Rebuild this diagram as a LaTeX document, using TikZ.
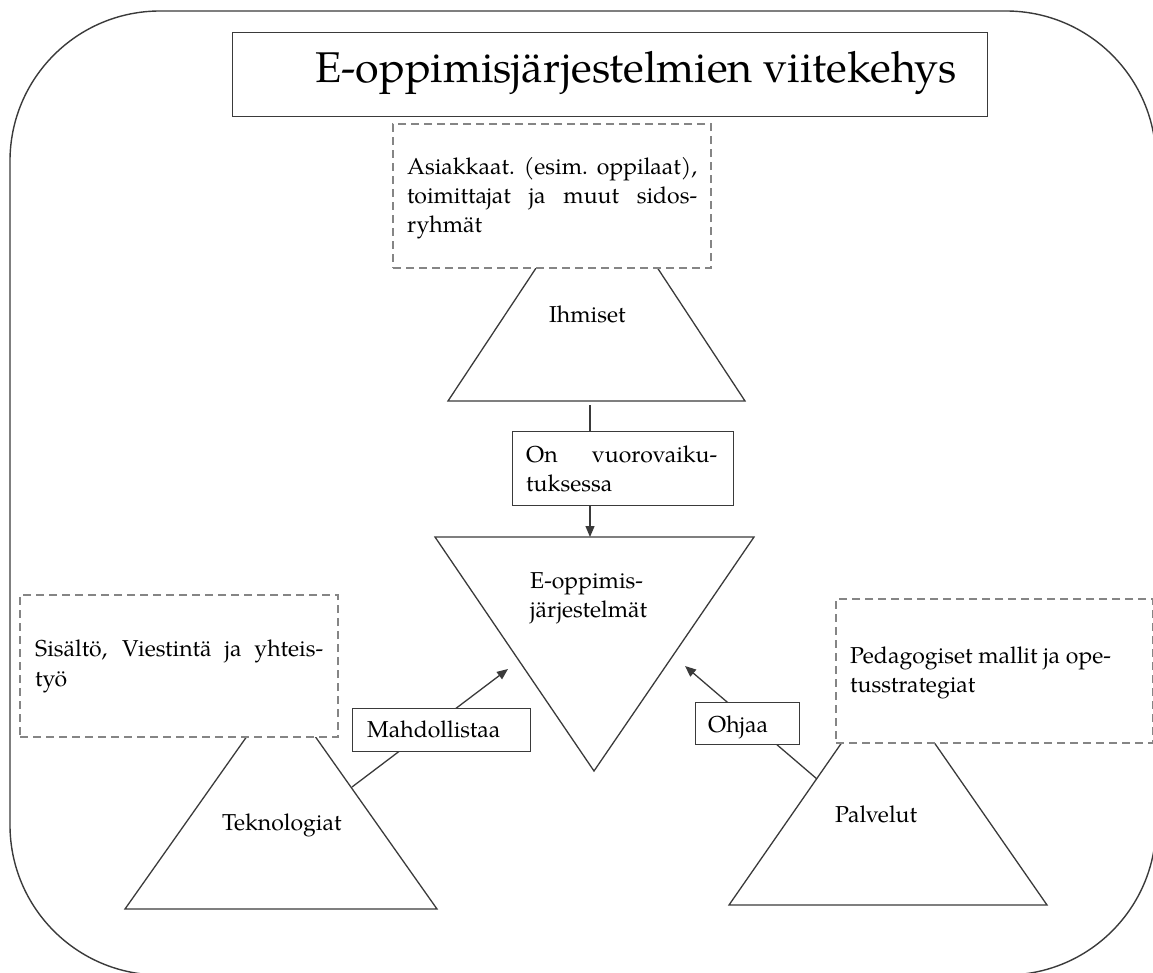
\documentclass[tikz,border=0pt]{standalone}
\usepackage{fontspec}
\setmainfont{TeX Gyre Pagella}
\usetikzlibrary{arrows.meta}
\definecolor{ln}{HTML}{3A3A3A}
\definecolor{dsh}{HTML}{858585}
\tikzset{
  solidln/.style={draw=ln, line width=1.3pt},
  dashbox/.style={draw=dsh, line width=2pt, dash pattern=on 8pt off 5pt, fill=white, inner sep=0pt, anchor=north west},
  plainbox/.style={draw=ln, line width=1.3pt, fill=white, inner sep=0pt, anchor=north west},
  txt/.style={inner sep=0pt, anchor=base west, font=\fontsize{23}{29}\selectfont, text=black},
  arr/.style={solidln, -{Triangle[length=11pt,width=9pt]}},
}
\begin{document}
\begin{tikzpicture}[x=1pt,y=-1pt]
\useasboundingbox (0,0) rectangle (1153,972);
% outer frame
\draw[draw=ln, line width=1.4pt, rounded corners=150pt] (10,11) rectangle (1156,975);

% title
\node[plainbox, minimum width=755pt, minimum height=84pt] (title) at (232,32) {};
\node[inner sep=0pt, anchor=base west, font=\fontsize{43}{50}\selectfont] (titletext) at (315,82) {E-oppimisjärjestelmien viitekehys};

% triangles
\draw[solidln] (597,176) -- (745,401) -- (448,401) -- cycle;
\draw[solidln] (281,688) -- (437,909) -- (125,909) -- cycle;
\draw[solidln] (888,676) -- (1047,905) -- (729,905) -- cycle;
\draw[solidln] (435,537) -- (754,537) -- (594,771) -- cycle;

\coordinate (ihmB) at (590,405);
\coordinate (invTop) at (590,537);
\coordinate (tekR) at (352,787);
\coordinate (mahTip) at (508,669);
\coordinate (palL) at (817,779);
\coordinate (ohjTip) at (685,666);

% boxes
\node[dashbox, minimum width=318pt, minimum height=144pt] (people) at (392,123) {};
\node[dashbox, minimum width=318pt, minimum height=142pt] (content) at (19,594) {};
\node[dashbox, minimum width=317pt, minimum height=144pt] (pedag) at (835,598) {};

\node[plainbox, minimum width=221pt, minimum height=74pt] (onbox) at (512,431) {};

% connectors
\draw[solidln] (ihmB) -- (ihmB |- onbox.north);
\draw[arr] (ihmB |- onbox.south) -- (invTop);
\draw[arr] (tekR) -- (mahTip);
\draw[arr] (palL) -- (ohjTip);

\node[plainbox, minimum width=178pt, minimum height=43pt] (mahbox) at (352,708) {};
\node[plainbox, minimum width=104pt, minimum height=42pt] (ohjbox) at (695,702) {};

% texts
\node[txt] (p1) at (407,174) {\makebox[290pt][s]{Asiakkaat. (esim. oppilaat),}};
\node[txt] (p2) at (407,203) {\makebox[290pt][s]{toimittajat ja muut sidos-}};
\node[txt] (p3) at (407,232) {ryhmät};
\node[txt] (ihm) at (549,322) {Ihmiset};
\node[txt] (on1) at (526,462) {\makebox[191pt][s]{On vuorovaiku-}};
\node[txt] (on2) at (526,491) {tuksessa};
\node[txt] (e1) at (530,588) {E-oppimis-};
\node[txt] (e2) at (530,617) {järjestelmät};
\node[txt] (c1) at (35,656) {\makebox[288pt][s]{Sisältö, Viestintä ja yhteis-}};
\node[txt] (c2) at (35,686) {työ};
\node[txt] (d1) at (850,663) {Pedagogiset mallit ja ope-};
\node[txt] (d2) at (850,692) {tusstrategiat};
\node[txt] (mah) at (367,737) {Mahdollistaa};
\node[txt] (ohj) at (708,732) {Ohjaa};
\node[txt] (tek) at (222,830) {Teknologiat};
\node[txt] (pal) at (835,822) {Palvelut};
\end{tikzpicture}
\end{document}
